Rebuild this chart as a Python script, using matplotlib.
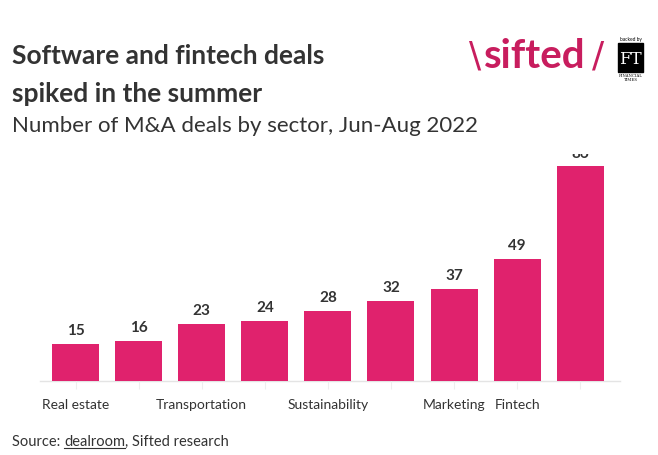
import matplotlib.pyplot as plt
from matplotlib.patches import Rectangle

# data
sectors = ["Real estate", "", "Transportation", "", "Sustainability",
           "", "Marketing", "Fintech", ""]
deals = [15, 16, 23, 24, 28, 32, 37, 49, 86]

PINK = "#e0226d"
DARK = "#333333"
W, H = 658, 456

plt.rcParams["font.family"] = ["Lato", "DejaVu Sans"]

fig = plt.figure(figsize=(W / 100, H / 100), dpi=100)
fig.patch.set_facecolor("white")

# axes placed in pixel terms: left 40, right 620, bottom 382, top 155
ax = fig.add_axes([40 / W, (H - 382) / H, 580 / W, 227 / H])
x = list(range(len(deals)))
ax.bar(x, deals, width=0.745, color=PINK, zorder=2)
ax.set_xlim(-0.563, 8.63)
ax.set_ylim(0, 90.8)

for xi, v in zip(x, deals):
    ax.text(xi, v + 2.6, str(v), ha="center", va="bottom", fontsize=11,
            fontweight="bold", color=DARK, clip_on=True)

ax.axhline(0, color="#e4e4e4", lw=1, zorder=1, clip_on=False)
ax.set_xticks(x)
ax.set_xticklabels(sectors, fontsize=10, color=DARK)
ax.tick_params(axis="x", length=6, color="#eeeeee", pad=6)
ax.set_yticks([])
for s in ax.spines.values():
    s.set_visible(False)

# titles
fig.text(12 / W, 1 - 64 / H, "Software and fintech deals",
         fontsize=19, fontweight="bold", color=DARK, va="baseline")
fig.text(12 / W, 1 - 102 / H, "spiked in the summer",
         fontsize=19, fontweight="bold", color=DARK, va="baseline")
fig.text(12 / W, 1 - 132 / H, "Number of M&A deals by sector, Jun-Aug 2022",
         fontsize=16, color=DARK, va="baseline")

# logo
fig.text(469 / W, 1 - 57 / H, "\\", fontsize=26, color="#c81d5e",
         va="center", ha="left", family="DejaVu Sans")
fig.text(484 / W, 1 - 57 / H, "sifted", fontsize=29, fontweight="bold",
         color="#c81d5e", va="center", ha="left")
fig.text(592 / W, 1 - 57 / H, "/", fontsize=26, color="#c81d5e",
         va="center", ha="left", family="DejaVu Sans")
fig.add_artist(Rectangle((618 / W, 1 - 73 / H), 25 / W, 29 / H,
                         transform=fig.transFigure, color="black"))
fig.text(630.5 / W, 1 - 59 / H, "FT", fontsize=12, color="white",
         ha="center", va="center", family="DejaVu Serif")
fig.text(630.5 / W, 1 - 39 / H, "backed by", fontsize=3.5, color="black",
         ha="center", va="center")
fig.text(630.5 / W, 1 - 78 / H, "FINANCIAL\nTIMES", fontsize=2.8,
         color="black", ha="center", va="center", family="DejaVu Serif")

# source line with underlined link word
t1 = fig.text(12 / W, 1 - 446 / H, "Source: ", fontsize=10.5, color=DARK,
              va="baseline")
fig.canvas.draw()
bb = t1.get_window_extent()
t2 = fig.text(bb.x1 / W, 1 - 446 / H, "dealroom", fontsize=10.5, color=DARK,
              va="baseline")
fig.canvas.draw()
bb2 = t2.get_window_extent()
fig.add_artist(plt.Line2D([bb2.x0 / W, bb2.x1 / W],
                          [(H - 449) / H, (H - 449) / H], color=DARK, lw=0.8))
fig.text(bb2.x1 / W, 1 - 446 / H, ", Sifted research", fontsize=10.5,
         color=DARK, va="baseline")

plt.savefig("out.png", dpi=100, facecolor="white")
plt.close()
